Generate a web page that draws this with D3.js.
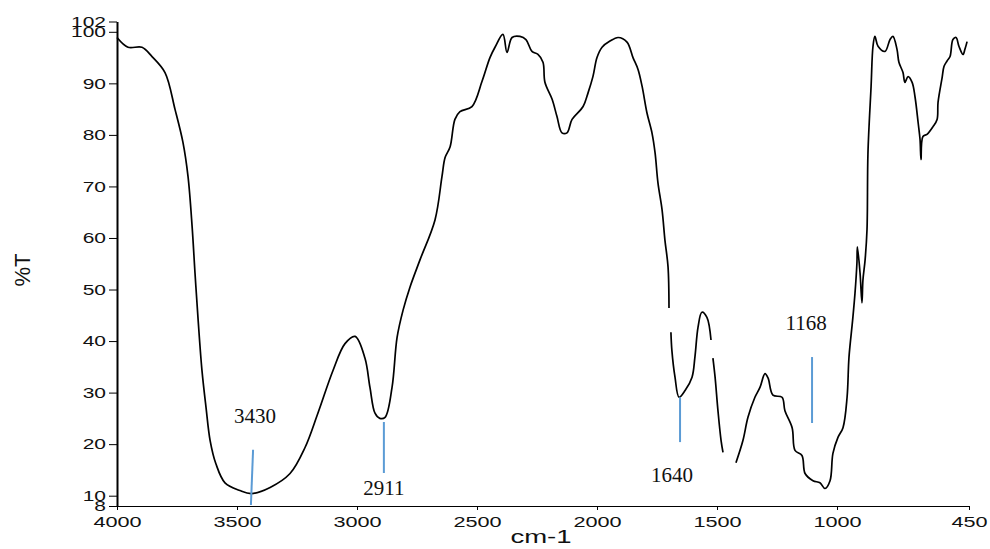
<!DOCTYPE html>
<html>
<head>
<meta charset="utf-8">
<script src="https://cdnjs.cloudflare.com/ajax/libs/d3/7.8.5/d3.min.js"></script>
<style>
  body { margin: 0; background: #fff; }
  svg { display: block; }
</style>
</head>
<body>
<div class="chart"></div>
<script>
// IR spectrum: wavenumber (cm-1) and transmittance (%T)
// null = gap in the trace
var wavenumber = [
  4000, 3954, 3896, 3854, 3800, 3758, 3725, 3704, 3687, 3675, 3662, 3646, 3629, 3612, 3588, 3550,
  3488, 3440, 3362, 3279, 3217, 3163, 3100, 3050, 3008, 2967, 2946, 2925, 2905, 2883, 2854, 2833,
  2808, 2779, 2738, 2675, 2646, 2633, 2612, 2592, 2571, 2521, 2479, 2446, 2425, 2392, 2375, 2354,
  2321, 2296, 2271, 2246, 2225, 2217, 2187, 2167, 2146, 2125, 2104, 2058, 2037, 2017, 2000, 1979,
  1946, 1912, 1875, 1850, 1829, 1812, 1792, 1771, 1758, 1746, 1729, 1717, 1704, 1700, 1696,
  1692, 1688, 1675, 1658, 1633, 1604, 1592, 1579, 1563, 1542, 1525, 1521,
  1517, 1508, 1496, 1483, 1475, 1450,
  1421, 1392, 1371, 1342, 1321, 1300, 1287, 1267, 1229, 1217, 1187, 1175, 1146, 1133, 1100, 1071,
  1050, 1029, 1017, 996, 975, 958, 950, 935, 925, 917, 915, 904, 896, 892, 883, 875, 871, 858,
  850, 842, 829, 800, 779, 767, 750, 742, 725, 717, 704, 687, 675, 662, 654, 650, 642, 625, 600,
  583, 579, 562, 554, 542, 529, 517, 504, 492, 475, 467, 458
];
var transmittance = [
  98.9, 97.0, 97.0, 95.2, 92.1, 84.9, 78.5, 71.9, 62.2, 53.2, 44.1, 34.3, 27.1, 20.7, 16.2, 12.5,
  11.0, 10.4, 11.6, 14.3, 19.3, 26.0, 34.3, 39.5, 40.9, 36.7, 31.0, 26.0, 25.0, 25.2, 31.0, 40.7,
  46.0, 50.5, 55.7, 63.5, 71.9, 75.6, 77.7, 83.0, 84.5, 85.5, 90.4, 95.0, 97.0, 99.5, 96.0, 98.9,
  99.1, 98.5, 96.2, 95.6, 94.1, 90.2, 86.9, 83.6, 80.4, 80.4, 83.0, 85.5, 88.2, 91.3, 95.0, 97.0,
  98.2, 98.9, 98.0, 95.0, 92.7, 89.4, 84.3, 80.4, 76.5, 70.7, 65.5, 59.6, 54.4, 46.4, null,
  41.7, 38.2, 33.0, 29.1, 30.4, 33.0, 36.9, 42.7, 45.6, 44.6, 40.2, null,
  36.7, 33.0, 26.5, 20.7, 18.4, null,
  16.4, 20.7, 25.2, 29.1, 31.0, 33.7, 32.8, 29.5, 29.1, 26.5, 23.2, 18.8, 17.8, 14.3, 12.9, 12.5,
  11.4, 12.9, 18.2, 21.3, 23.2, 29.1, 36.9, 44.0, 49.3, 55.1, 58.3, 53.2, 47.4, 51.8, 55.7, 61.6, 76.5, 89.4,
  97.2, 99.1, 97.2, 96.2, 98.5, 99.1, 96.6, 94.1, 92.1, 90.2, 91.3, 90.2, 87.4, 82.4, 79.1, 75.2, 79.7, 80.1, 81.6,
  83.0, 86.3, 91.1, 93.3, 94.3, 95.2, 98.5, 98.9, 97.2, 95.6, 96.6, 98.1
];

var xTicks = [4000, 3500, 3000, 2500, 2000, 1500, 1000, 450];
var yTicks = [102, 100, 90, 80, 70, 60, 50, 40, 30, 20, 10, 8];

// peak annotations
var peakLabels = ["3430", "2911", "1640", "1168"];
var peakLabelWn = [3425, 2888, 1688, 1129];
var peakLabelT = [24.1, 10.1, 12.7, 42.1];
var markTopWn = [3433, 2888, 1654, 1104];
var markBotWn = [3442, 2888, 1654, 1104];
var markTopT = [18.9, 24.3, 29.1, 36.9];
var markBotT = [8.2, 14.4, 20.4, 24.1];

var width = 990, height = 549;
var svg = d3.select("div.chart").append("svg").attr("width", width).attr("height", height);

var xScale = d3.scaleLinear().domain([4000, 450]).range([117, 969]);
var yScale = d3.scaleLinear().domain([8, 102]).range([506, 21.5]);

// x axis
var gx = svg.append("g")
  .attr("transform", "translate(0," + yScale(8) + ")")
  .call(d3.axisBottom(xScale).tickValues(xTicks).tickSize(4).tickSizeOuter(0).tickPadding(7).tickFormat(d3.format("d")));
gx.select(".domain").attr("stroke", "#000").attr("stroke-width", 1.2);
gx.selectAll(".tick line").attr("stroke", "#000");
gx.selectAll(".tick text")
  .attr("font-family", "'Liberation Sans', Arial, sans-serif")
  .attr("font-size", "14px")
  .attr("fill", "#111")
  .attr("transform", "scale(1.55,1)");

// y axis
var gy = svg.append("g")
  .attr("transform", "translate(" + xScale(4000) + ",0)")
  .call(d3.axisLeft(yScale).tickValues(yTicks).tickSize(8).tickSizeOuter(0).tickFormat(d3.format("d")));
gy.select(".domain").attr("stroke", "#000").attr("stroke-width", 2);
gy.selectAll(".tick line").attr("stroke", "#000");
gy.selectAll(".tick text")
  .attr("font-family", "'Liberation Sans', Arial, sans-serif")
  .attr("font-size", "15px")
  .attr("fill", "#111")
  .attr("x", -11 / 1.4)
  .attr("transform", "scale(1.4,1)");

// axis titles
svg.append("text")
  .attr("transform", "translate(541,543) scale(1.45,1)")
  .attr("text-anchor", "middle")
  .attr("font-family", "'Liberation Sans', Arial, sans-serif")
  .attr("font-size", "19px")
  .attr("fill", "#111")
  .text("cm-1");

svg.append("text")
  .attr("transform", "translate(30,270) rotate(-90)")
  .attr("text-anchor", "middle")
  .attr("font-family", "'Liberation Sans', Arial, sans-serif")
  .attr("font-size", "22px")
  .attr("fill", "#111")
  .text("%T");

// spectrum line
var points = wavenumber.map(function(w, i) { return [w, transmittance[i]]; });
svg.append("path")
  .datum(points)
  .attr("fill", "none")
  .attr("stroke", "#000")
  .attr("stroke-width", 1.7)
  .attr("stroke-linejoin", "round")
  .attr("d", d3.line()
    .defined(function(d) { return d[1] !== null; })
    .curve(d3.curveCatmullRom.alpha(0.5))
    .x(function(d) { return xScale(d[0]); })
    .y(function(d) { return yScale(d[1]); }));

// peak marks + labels
svg.selectAll("line.mark")
  .data(peakLabels)
  .enter().append("line")
  .attr("class", "mark")
  .attr("x1", function(d, i) { return xScale(markTopWn[i]); })
  .attr("x2", function(d, i) { return xScale(markBotWn[i]); })
  .attr("y1", function(d, i) { return yScale(markTopT[i]); })
  .attr("y2", function(d, i) { return yScale(markBotT[i]); })
  .attr("stroke", "#5b9bd5")
  .attr("stroke-width", 2);

svg.selectAll("text.peak")
  .data(peakLabels)
  .enter().append("text")
  .attr("class", "peak")
  .attr("x", function(d, i) { return xScale(peakLabelWn[i]); })
  .attr("y", function(d, i) { return yScale(peakLabelT[i]); })
  .attr("text-anchor", "middle")
  .attr("font-family", "'Liberation Serif', 'Times New Roman', serif")
  .attr("font-size", "21px")
  .attr("fill", "#111")
  .text(function(d) { return d; });
</script>
</body>
</html>
